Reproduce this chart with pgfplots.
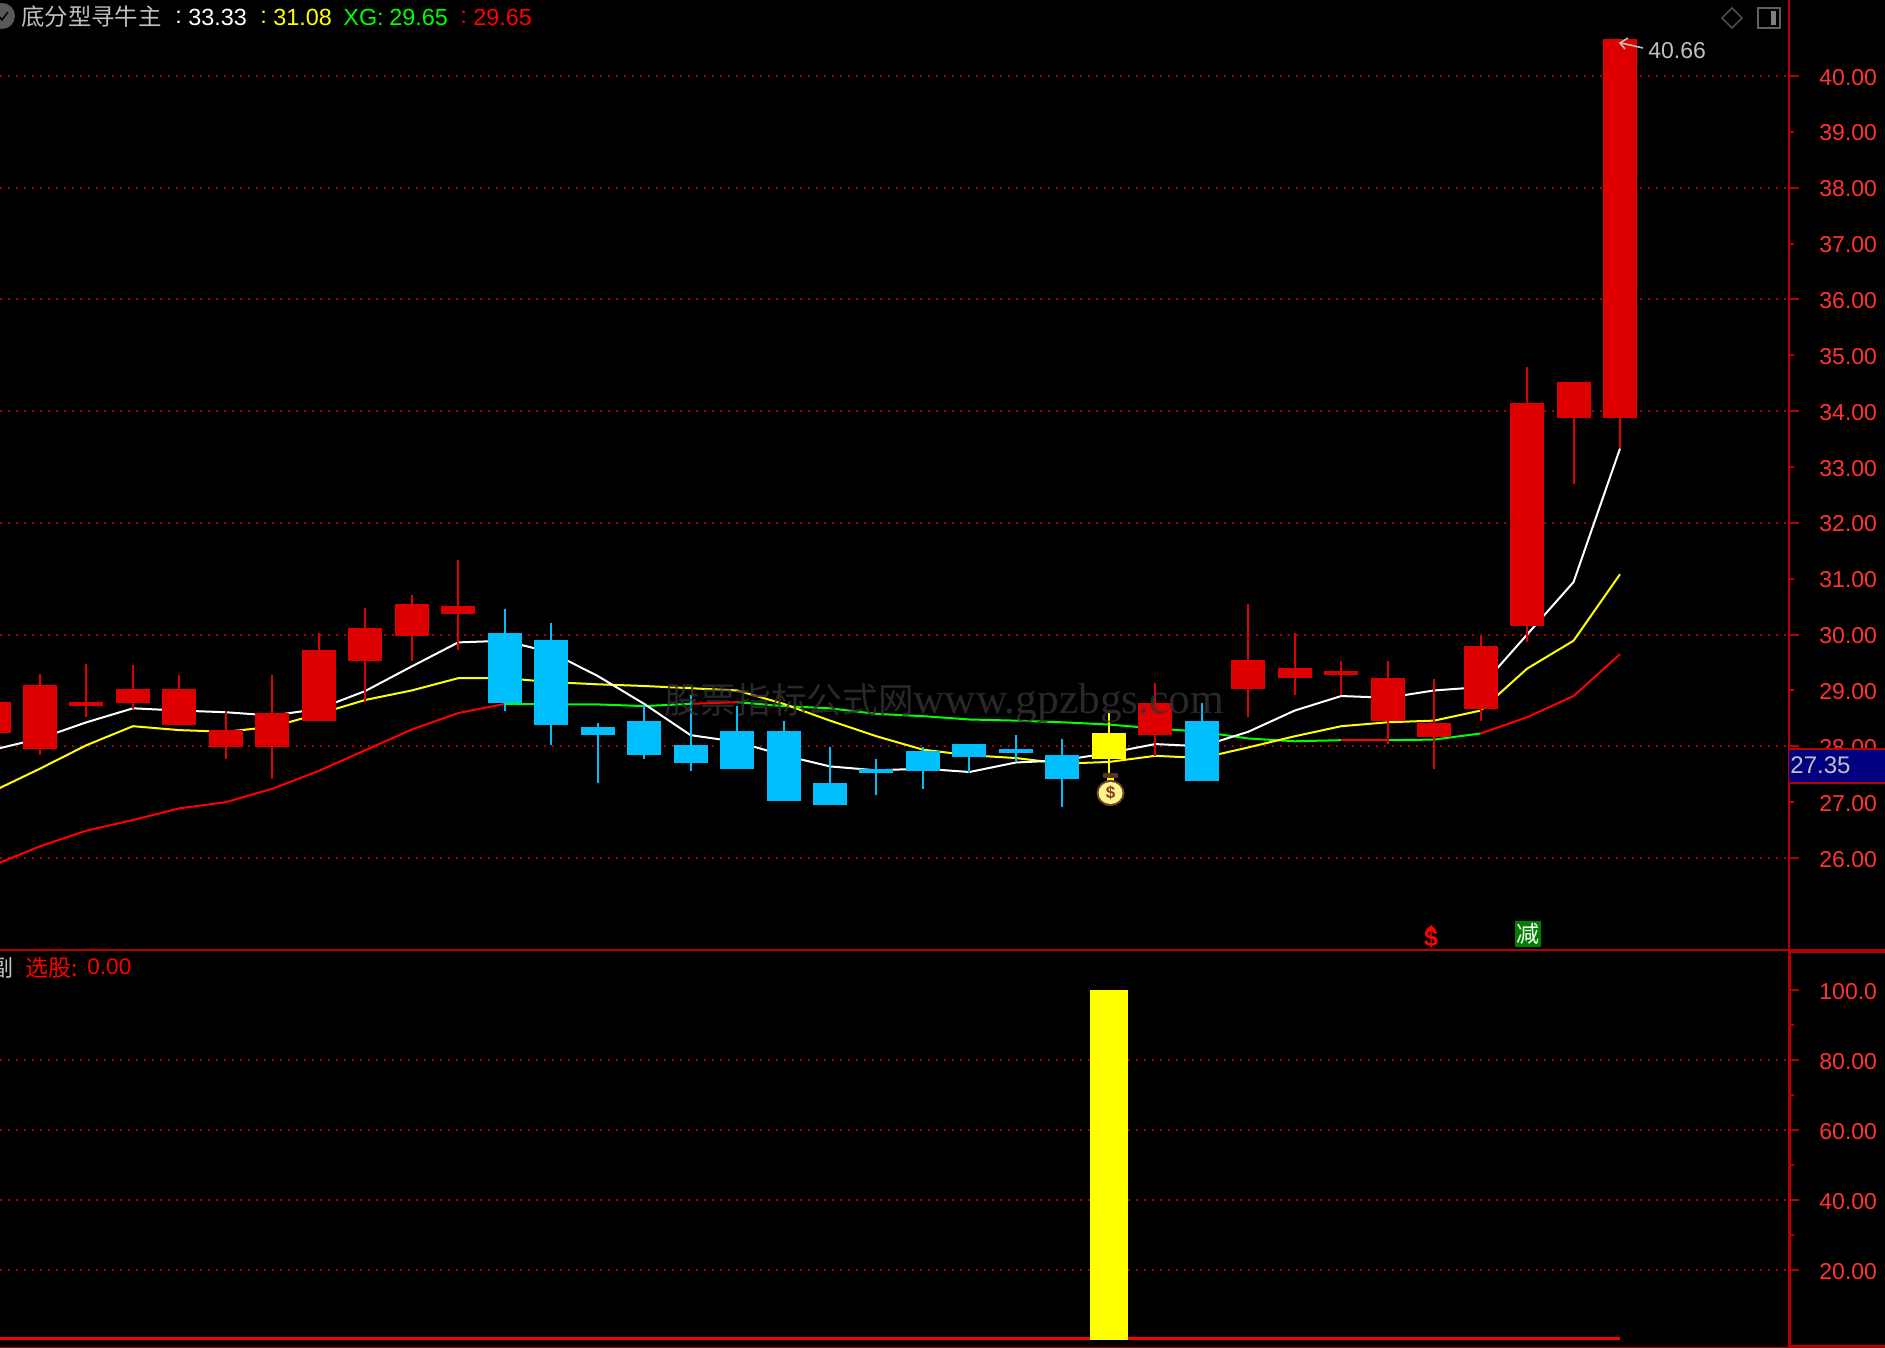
\documentclass[border=0pt]{standalone}
\usepackage{pgfplots}
\usepackage{pgfplotstable}
\usepackage{fontspec}
\pgfplotsset{compat=1.18}
\setmainfont{Liberation Sans}
\newfontfamily\cjk{Noto Sans CJK SC}
\newfontfamily\wmlatin{Liberation Serif}
\definecolor{cred}{RGB}{222,0,0}
\definecolor{cblue}{RGB}{0,191,255}
\definecolor{cyel}{RGB}{255,255,0}
\definecolor{lred}{RGB}{255,0,0}
\definecolor{lgreen}{RGB}{0,255,0}
\definecolor{axisred}{RGB}{184,0,0}
\definecolor{gridred}{RGB}{170,0,0}
\definecolor{labred}{RGB}{255,51,51}
\definecolor{silver}{RGB}{192,192,192}

\pgfplotstableread{
x top bot hi lo
-1 28.80 28.23 28.80 28.23
0 29.09 27.95 29.30 27.84
1 28.80 28.73 29.48 28.52
2 29.02 28.77 29.45 28.66
3 29.02 28.375 29.27 28.375
4 28.30 27.98 28.625 27.77
5 28.59 27.98 29.27 27.41
6 29.73 28.45 30.02 28.45
7 30.125 29.52 30.48 28.80
8 30.55 29.98 30.70 29.52
9 30.52 30.375 31.34 29.73
24 28.77 28.20 29.125 27.83
26 29.55 29.02 30.55 28.52
27 29.41 29.23 30.02 28.91
28 29.34 29.27 29.52 28.91
29 29.23 28.45 29.52 28.05
30 28.41 28.16 29.20 27.59
31 29.80 28.66 29.98 28.45
32 34.15 30.16 34.79 29.875
33 34.52 33.88 34.52 32.69
34 40.66 33.88 40.66 33.34
}\redT
\pgfplotstableread{
x top bot hi lo
10 30.02 28.77 30.45 28.625
11 29.91 28.375 30.20 28.02
12 28.34 28.20 28.41 27.34
13 28.446 27.84 28.74 27.77
14 28.02 27.70 28.91 27.55
15 28.27 27.59 28.73 27.59
16 28.27 27.02 28.45 27.02
17 27.34 26.95 27.98 26.95
18 27.59 27.52 27.77 27.125
19 27.91 27.55 27.98 27.23
20 28.05 27.80 28.05 27.52
21 27.95 27.875 28.20 27.73
22 27.84 27.41 28.125 26.91
25 28.45 27.375 28.77 27.375
}\blueT
\pgfplotstableread{
x top bot hi lo
23 28.23 27.77 28.59 27.52
}\yelT
\pgfplotstableread{
x y
-1 27.94
0 28.14
1 28.43
2 28.68
3 28.64
4 28.61
5 28.55
6 28.67
7 28.99
8 29.43
9 29.86
10 29.89
11 29.68
12 29.26
13 28.76
14 28.20
15 28.08
16 27.84
17 27.64
18 27.57
19 27.60
20 27.54
21 27.71
22 27.75
23 27.88
24 28.04
25 28.00
26 28.26
27 28.64
28 28.90
29 28.87
30 29.00
31 29.06
32 30.00
33 30.94
34 33.33
}\whiteT
\pgfplotstableread{
x y
-1 27.20
0 27.60
1 28.02
2 28.36
3 28.29
4 28.26
5 28.35
6 28.58
7 28.83
8 29.00
9 29.22
10 29.22
11 29.15
12 29.11
13 29.08
14 29.04
15 29.00
16 28.76
17 28.46
18 28.18
19 27.94
20 27.84
21 27.79
22 27.69
23 27.72
24 27.83
25 27.79
26 27.98
27 28.18
28 28.36
29 28.43
30 28.46
31 28.64
32 29.39
33 29.89
34 31.08
}\yellowT
\pgfplotstableread{
x y
-1 25.87
0 26.21
1 26.49
2 26.68
3 26.89
4 27.00
5 27.24
6 27.56
7 27.93
8 28.30
9 28.595
10 28.76
}\thirdA
\pgfplotstableread{
x y
10 28.76
11 28.75
12 28.75
13 28.72
14 28.76
}\thirdB
\pgfplotstableread{
x y
14 28.76
15 28.79
}\thirdC
\pgfplotstableread{
x y
15 28.79
16 28.72
17 28.68
18 28.58
19 28.54
20 28.48
21 28.46
22 28.43
23 28.39
24 28.32
25 28.26
26 28.14
27 28.09
28 28.11
}\thirdD
\pgfplotstableread{
x y
28 28.11
29 28.11
}\thirdE
\pgfplotstableread{
x y
29 28.11
30 28.12
31 28.23
}\thirdF
\pgfplotstableread{
x y
31 28.23
32 28.52
33 28.90
34 29.65
}\thirdG

\newcommand{\candles}[2]{%
 \addplot[draw=none,mark=none,forget plot,error bars/.cd,y dir=both,y explicit,error mark=none,
   error bar style={line width=1pt,color=#2}]
   table[x=x,y expr=(\thisrow{hi}+\thisrow{lo})/2,y error expr=(\thisrow{hi}-\thisrow{lo})/2]{#1};
 \addplot[draw=none,mark=none,forget plot,error bars/.cd,y dir=both,y explicit,error mark=none,
   error bar style={line width=17pt,color=#2}]
   table[x=x,y expr=(\thisrow{top}+\thisrow{bot})/2,y error expr=(\thisrow{top}-\thisrow{bot})/2]{#1};
}
\pgfplotsset{pane/.style={
  scale only axis,width=894.5pt,
  xmin=-0.8608,xmax=37.637,
  axis x line=none,axis y line=right,
  axis line style={-,draw=axisred,line width=1pt},
  ymajorgrids,
  grid style={draw=gridred,line width=1pt,dash pattern=on 1pt off 3pt},
  major tick style={draw=axisred,line width=1pt},
  minor tick style={draw=axisred,line width=1pt},
  tick align=outside,major tick length=5pt,minor tick length=2.5pt,
  yticklabel style={font=\fontsize{11.5}{12}\selectfont,color=labred,inner sep=0pt,anchor=west,xshift=10pt,yshift=-0.6pt},
  extra tick style={grid=none},
  clip=true,
}}
\def\PX#1#2{({#1*0.5pt},{(1348-#2)*0.5pt})}
\begin{document}
\begin{tikzpicture}[x=1pt,y=1pt]
\path[use as bounding box] (0,0) rectangle (942.5pt,674pt);
\clip (0,0) rectangle (942.5pt,674pt);
\fill[black] (0,0) rectangle (942.5pt,674pt);

\begin{axis}[pane,anchor=south west,at={(0pt,199pt)},height=475pt,
  ymin=24.354,ymax=41.36,
  ytick={26,28,30,32,34,36,38,40},
  yticklabels={26.00,28.00,30.00,32.00,34.00,36.00,38.00,40.00},
  extra y ticks={27,29,31,33,35,37,39},
  extra y tick labels={27.00,29.00,31.00,33.00,35.00,37.00,39.00},
  extra y tick style={major tick length=2.5pt,yticklabel style={xshift=2.5pt}},
]
\addplot[lred,line width=1pt,forget plot] table{\thirdA};
\addplot[lgreen,line width=1pt,forget plot] table{\thirdB};
\addplot[lred,line width=1pt,forget plot] table{\thirdC};
\addplot[lgreen,line width=1pt,forget plot] table{\thirdD};
\addplot[lred,line width=1pt,forget plot] table{\thirdE};
\addplot[lgreen,line width=1pt,forget plot] table{\thirdF};
\addplot[lred,line width=1pt,forget plot] table{\thirdG};
\addplot[cyel,line width=1pt,forget plot] table{\yellowT};
\addplot[white,line width=1pt,forget plot] table{\whiteT};
\candles{\redT}{cred}
\candles{\blueT}{cblue}
\candles{\yelT}{cyel}
\end{axis}

\begin{axis}[pane,anchor=south west,at={(0pt,0pt)},height=199pt,
  ymin=-2.29,ymax=111.43,
  ytick={20,40,60,80},
  yticklabels={20.00,40.00,60.00,80.00},
  minor ytick={30,50,70,90},
  extra y ticks={100},
  extra y tick labels={100.0},
]
\addplot[lred,line width=1.5pt,forget plot] coordinates {(-1,0.5) (34,0.5)};
\addplot[ybar,bar width=19pt,fill=cyel,draw=none,forget plot] coordinates {(23,100)};
\end{axis}

% watermark
\node[anchor=west,inner sep=0pt,text=black!80!white,text opacity=0.8] at \PX{664}{703} {{\fontsize{17.8}{20}\selectfont\cjk 股票指标公式网}{\fontsize{21.7}{22}\selectfont\wmlatin www.gpzbgs.com}};

% pane frame
\draw[axisred,line width=1pt] \PX{0}{950} -- \PX{1789}{950};
\draw[axisred,line width=2pt] \PX{1789}{951} -- \PX{1885}{951};
\draw[axisred,line width=1.5pt] \PX{1789}{950} -- \PX{1789}{1348};
\draw[axisred,line width=1.5pt] \PX{1789}{1347} -- \PX{1885}{1347};
\draw[axisred,line width=0.8pt] \PX{0}{1347.5} -- \PX{1789}{1347.5};

% price tag
\fill[fill={rgb,255:red,0;green,0;blue,128}] \PX{1789}{749} rectangle \PX{1885}{783};
\draw[axisred,line width=1pt] \PX{1789}{749} -- \PX{1885}{749};
\draw[axisred,line width=1pt] \PX{1789}{783} -- \PX{1885}{783};
\node[anchor=west,inner sep=0pt,text=silver,font=\fontsize{12}{12}\selectfont] at \PX{1790}{765.5} {27.35};

% header
\fill[gray!70!black] \PX{2}{16} circle (6.5pt);
\draw[black,line width=0.7pt] \PX{-1}{16} -- \PX{2}{20} -- \PX{8}{12};
\node[anchor=west,inner sep=0pt,text=silver,font=\fontsize{11.7}{12}\selectfont\cjk] at \PX{21}{17} {底分型寻牛主};
\node[anchor=west,inner sep=0pt,text=white,font=\fontsize{11.7}{12}\selectfont] at \PX{175}{17.5} {:};
\node[anchor=west,inner sep=0pt,text=white,font=\fontsize{11.7}{12}\selectfont] at \PX{188}{17.5} {33.33};
\node[anchor=west,inner sep=0pt,text=cyel,font=\fontsize{11.7}{12}\selectfont] at \PX{260}{17.5} {:};
\node[anchor=west,inner sep=0pt,text=cyel,font=\fontsize{11.7}{12}\selectfont] at \PX{273}{17.5} {31.08};
\node[anchor=west,inner sep=0pt,text=lgreen,font=\fontsize{11.7}{12}\selectfont] at \PX{343}{17.5} {XG:};
\node[anchor=west,inner sep=0pt,text=lgreen,font=\fontsize{11.7}{12}\selectfont] at \PX{389}{17.5} {29.65};
\node[anchor=west,inner sep=0pt,text=lred,font=\fontsize{11.7}{12}\selectfont] at \PX{460}{17.5} {:};
\node[anchor=west,inner sep=0pt,text=lred,font=\fontsize{11.7}{12}\selectfont] at \PX{473}{17.5} {29.65};

% sub pane header
\node[anchor=east,inner sep=0pt,text=silver,font=\fontsize{11.5}{12}\selectfont\cjk] at \PX{14}{968} {副};
\node[anchor=west,inner sep=0pt,text=lred,font=\fontsize{11.5}{12}\selectfont\cjk] at \PX{25}{968} {选股:};
\node[anchor=west,inner sep=0pt,text=lred,font=\fontsize{11.3}{12}\selectfont] at \PX{87}{967} {0.00};

% top right icons
\draw[gray!60!black,line width=0.8pt] \PX{1732}{8} -- \PX{1742}{18} -- \PX{1732}{28} -- \PX{1722}{18} -- cycle;
\draw[gray!75!black,line width=1pt] \PX{1758}{8} rectangle \PX{1780}{28};
\fill[gray] \PX{1771}{11} rectangle \PX{1776}{25};

% highest price note
\draw[silver,line width=0.8pt] \PX{1643}{48} -- \PX{1621}{43};
\draw[silver,line width=0.8pt] \PX{1628}{38} -- \PX{1620}{43} -- \PX{1625}{49};
\node[anchor=west,inner sep=0pt,text=silver,font=\fontsize{11.5}{12}\selectfont] at \PX{1648}{51} {40.66};

% S mark
\fill[lred] \PX{1426}{930} -- \PX{1431}{925} -- \PX{1436}{930} -- cycle;
\node[inner sep=0pt,text=lred,font=\fontsize{12.5}{12}\selectfont\bfseries] at \PX{1431}{938.5} {\$};

% minus mark
\fill[fill={rgb,255:red,0;green,128;blue,0}] \PX{1515}{921} rectangle \PX{1541}{947};
\node[inner sep=0pt,text=white,font=\fontsize{11.5}{12}\selectfont\cjk] at \PX{1528}{934} {减};

% money bag
\fill[fill={rgb,255:red,90;green,50;blue,30}] \PX{1103}{773} rectangle \PX{1118}{778};
\fill[cyel] \PX{1107}{778} rectangle \PX{1114}{784};
\fill[fill={rgb,255:red,110;green,70;blue,40}] \PX{1110.5}{793} ellipse (7pt and 6.5pt);
\fill[fill={rgb,255:red,255;green,245;blue,140}] \PX{1110.5}{793} ellipse (6pt and 5.5pt);
\node[inner sep=0pt,text={rgb,255:red,130;green,60;blue,40},font=\fontsize{8.5}{9}\selectfont\bfseries] at \PX{1110.5}{793} {\$};
\end{tikzpicture}
\end{document}
